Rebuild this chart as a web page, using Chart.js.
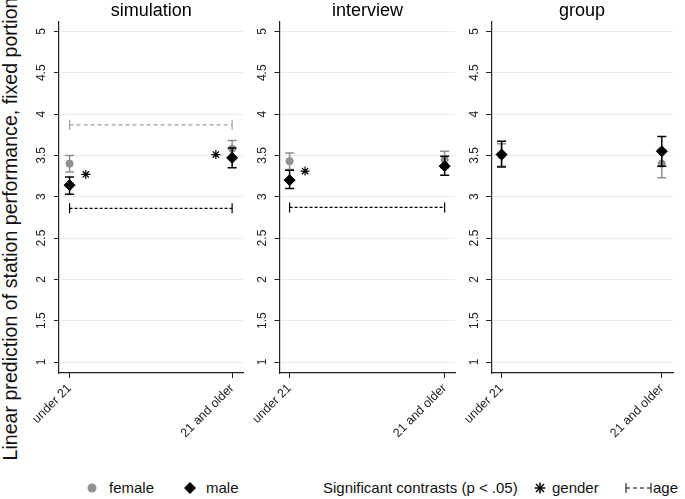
<!DOCTYPE html>
<html>
<head>
<meta charset="utf-8">
<script src="https://cdn.jsdelivr.net/npm/chart.js@4.4.1/dist/chart.umd.min.js"></script>
<style>
body{margin:0;width:685px;height:499px;background:#fff;position:relative;overflow:hidden;font-family:"Liberation Sans",Arial,sans-serif;color:#111;}
canvas{position:absolute;top:0;}
#ytitle{position:absolute;width:480px;left:-230px;top:218px;height:22px;line-height:22px;font-size:19.6px;text-align:center;transform:rotate(-90deg);white-space:nowrap;}
.leg{position:absolute;top:479px;font-size:15px;line-height:18px;white-space:nowrap;}
#legsvg{position:absolute;left:0;top:475px;}
</style>
</head>
<body>
<div id="ytitle">Linear prediction of station performance, fixed portion</div>

<svg id="legsvg" width="685" height="24">
  <circle cx="92" cy="13" r="4.5" fill="#909090"></circle>
  <polygon points="190,7 196,13 190,19 184,13" fill="#000"></polygon>
  <g stroke="#000" stroke-width="1.5">
    <line x1="534.5" y1="13" x2="545.5" y2="13"></line>
    <line x1="540" y1="7.5" x2="540" y2="18.5"></line>
    <line x1="536" y1="9" x2="544" y2="17"></line>
    <line x1="536" y1="17" x2="544" y2="9"></line>
  </g>
  <g stroke="#000" stroke-width="1">
    <line x1="626" y1="8" x2="626" y2="18"></line>
    <line x1="651" y1="8" x2="651" y2="18"></line>
    <line x1="626" y1="13" x2="651" y2="13" stroke-dasharray="4,3"></line>
  </g>
</svg>
<div class="leg" style="left:109px">female</div>
<div class="leg" style="left:206px">male</div>
<div class="leg" style="left:323px">Significant contrasts (p &lt; .05)</div>
<div class="leg" style="left:552px">gender</div>
<div class="leg" style="left:653px">age</div>

<script>
// data
var categories = ["under 21", "21 and older"];
var panelTitles = ["simulation", "interview", "group"];
var yTicks = [1, 1.5, 2, 2.5, 3, 3.5, 4, 4.5, 5];

var femaleMean = [[3.40, 3.58], [3.43, 3.45], [3.50, 3.40]];
var femaleLo   = [[3.30, 3.48], [3.33, 3.35], [3.37, 3.23]];
var femaleHi   = [[3.50, 3.68], [3.53, 3.55], [3.64, 3.57]];

var maleMean = [[3.14, 3.47], [3.20, 3.37], [3.51, 3.55]];
var maleLo   = [[3.03, 3.35], [3.10, 3.26], [3.36, 3.37]];
var maleHi   = [[3.24, 3.59], [3.32, 3.49], [3.67, 3.73]];

// gender contrast markers (null = not significant)
var genderStar = [[3.27, 3.51], [3.31, null], [null, null]];
// age contrast brackets (null = not significant)
var ageFemale = [3.87, null, null];
var ageMale   = [2.86, 2.87, null];

var GRAY = "#909090";
var BLACK = "#000000";

// canvas geometry per panel: left, width, y-axis width, right padding
var boxes = [
  {left: 0,   width: 250, axisW: 59, padR: 3},
  {left: 250, width: 212, axisW: 23, padR: 3},
  {left: 462, width: 223, axisW: 24, padR: 12}
];

function ciSet(i, lo, hi, color, order) {
  return {
    data: [{x: i, y: lo}, {x: i, y: hi}],
    showLine: true,
    borderColor: color,
    borderWidth: 1.5,
    pointStyle: "line",
    pointRadius: 4.5,
    pointBorderColor: color,
    pointBorderWidth: 1.5,
    order: order
  };
}

function bracketSet(y, color, dash) {
  return {
    data: [{x: 0, y: y}, {x: 1, y: y}],
    showLine: true,
    borderColor: color,
    borderWidth: 1.2,
    borderDash: dash,
    pointStyle: "line",
    pointRotation: 90,
    pointRadius: 5,
    pointBorderColor: color,
    pointBorderWidth: 1.2,
    order: 8
  };
}

for (var p = 0; p < 3; p++) {
  var b = boxes[p];
  var cv = document.createElement("canvas");
  cv.width = b.width;
  cv.height = 440;
  cv.style.left = b.left + "px";
  document.body.appendChild(cv);

  var ds = [];
  for (var i = 0; i < 2; i++) {
    ds.push(ciSet(i, femaleLo[p][i], femaleHi[p][i], GRAY, 6));
    ds.push(ciSet(i, maleLo[p][i], maleHi[p][i], BLACK, 4));
  }
  ds.push({
    data: femaleMean[p].map(function (v, i) { return {x: i, y: v}; }),
    pointStyle: "circle", pointRadius: 3.6, pointBackgroundColor: GRAY,
    pointBorderColor: GRAY, pointBorderWidth: 1, order: 5
  });
  ds.push({
    data: maleMean[p].map(function (v, i) { return {x: i, y: v}; }),
    pointStyle: "rectRot", pointRadius: 5.5, pointBackgroundColor: BLACK,
    pointBorderColor: BLACK, pointBorderWidth: 1, order: 3
  });
  var stars = [];
  genderStar[p].forEach(function (v, i) {
    if (v !== null) stars.push({x: i === 0 ? i + 0.1 : i - 0.1, y: v});
  });
  if (stars.length) {
    ds.push({
      data: stars, pointStyle: "star", pointRadius: 4.5,
      pointBorderColor: BLACK, pointBorderWidth: 1.2, order: 2
    });
  }
  if (ageFemale[p] !== null) ds.push(bracketSet(ageFemale[p], "#a0a0a0", [4, 3]));
  if (ageMale[p] !== null) ds.push(bracketSet(ageMale[p], BLACK, [3, 2]));

  new Chart(cv.getContext("2d"), {
    type: "scatter",
    data: {datasets: ds},
    options: {
      responsive: false,
      animation: false,
      layout: {padding: {left: 0, right: b.padR, top: 0, bottom: 0}},
      plugins: {
        legend: {display: false},
        tooltip: {enabled: false},
        title: {
          display: true,
          text: panelTitles[p],
          fullSize: false,
          color: "#000",
          font: {family: "Liberation Sans", size: 18, weight: "normal"},
          padding: {top: 0, bottom: 0.4}
        }
      },
      scales: {
        x: {
          type: "linear",
          min: -0.065,
          max: 1.07,
          afterBuildTicks: function (s) { s.ticks = [{value: 0}, {value: 1}]; },
          afterFit: function (s) { s.height = 67; },
          ticks: {
            minRotation: 45, maxRotation: 45, color: "#222",
            font: {family: "Liberation Sans", size: 12.5},
            callback: function (v) { return categories[v]; }
          },
          grid: {drawOnChartArea: false, tickColor: "#222", tickLength: 5},
          border: {color: "#222", width: 1.2}
        },
        y: {
          min: 0.867,
          max: 5.114,
          afterBuildTicks: function (s) { s.ticks = yTicks.map(function (v) { return {value: v}; }); },
          afterFit: (function (w) { return function (s) { s.width = w; }; })(b.axisW),
          ticks: {
            minRotation: 90, maxRotation: 90, crossAlign: "center", padding: 3.5,
            color: "#222",
            font: {family: "Liberation Sans", size: 12},
            callback: function (v) { return String(v); }
          },
          grid: {color: "#ececec", tickColor: "#222", tickLength: 5},
          border: {color: "#222", width: 1.2}
        }
      }
    }
  });
}
</script>
</body>
</html>
